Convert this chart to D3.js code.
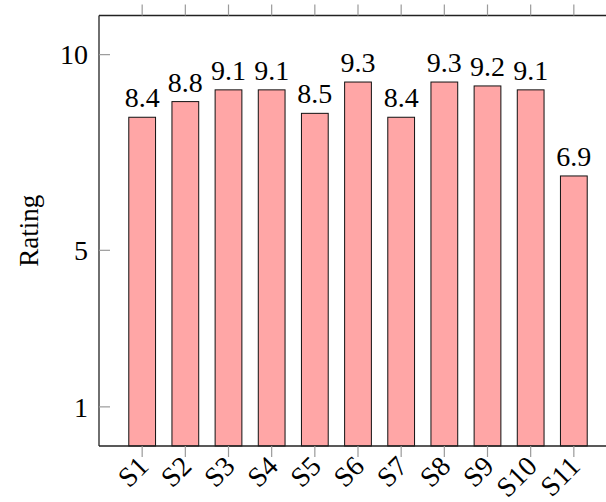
<!DOCTYPE html>
<html>
<head>
<meta charset="utf-8">
<script src="https://cdn.jsdelivr.net/npm/d3@7"></script>
<style>
  @font-face { font-family: "ChartSerif"; src: local("Liberation Serif"), local("LiberationSerif"), local("Liberation Serif Regular"), local("LiberationSerif-Regular"); }
  html, body { margin: 0; padding: 0; background: #fff; }
  svg { display: block; }
  svg text { font-family: "Liberation Serif", "ChartSerif", "Times New Roman" !important; }
</style>
</head>
<body>
<svg id="chart" width="606" height="502" style="font-family: 'Liberation Serif', serif"></svg>
<script>
const categories = ["S1","S2","S3","S4","S5","S6","S7","S8","S9","S10","S11"];
const ratings = [8.4, 8.8, 9.1, 9.1, 8.5, 9.3, 8.4, 9.3, 9.2, 9.1, 6.9];
const yTicks = [1, 5, 10];
const yLabel = "Rating";

const FONT = "\"Liberation Serif\", \"ChartSerif\", \"Times New Roman\"";
const svg = d3.select("#chart");
const pLeft = 99, pRight = 617, pTop = 15.5, pBottom = 446;

const x = d3.scaleLinear().domain([0, categories.length + 1]).range([pLeft, pRight]);
const y = d3.scaleLinear().domain([0, 11]).range([pBottom, pTop]);
const unit = x(1) - x(0);
const barW = unit * 0.62;

// bars
svg.append("g").selectAll("rect")
  .data(ratings)
  .join("rect")
  .attr("x", (d, i) => x(i + 1) - barW / 2)
  .attr("y", d => y(d))
  .attr("width", barW)
  .attr("height", d => y(0) - y(d))
  .attr("fill", "#ffa6a6")
  .attr("stroke", "#111")
  .attr("stroke-width", 1);

// value labels
svg.append("g").selectAll("text")
  .data(ratings)
  .join("text")
  .attr("x", (d, i) => x(i + 1))
  .attr("y", d => y(d) - 10)
  .attr("text-anchor", "middle")
  .style("font-family", FONT)
  .style("font-size", "28px")
  .text(d => d.toFixed(1));

// axis box lines
const box = svg.append("g").attr("stroke", "#222").attr("stroke-width", 1.3).attr("fill", "none");
box.append("line").attr("x1", pLeft).attr("x2", pLeft).attr("y1", pTop).attr("y2", pBottom);
box.append("line").attr("x1", pLeft).attr("x2", pRight).attr("y1", pTop).attr("y2", pTop);
box.append("line").attr("x1", pLeft).attr("x2", pRight).attr("y1", pBottom).attr("y2", pBottom);
box.append("line").attr("x1", pRight).attr("x2", pRight).attr("y1", pTop).attr("y2", pBottom);

// x ticks (outside, top and bottom)
const xIdx = categories.map((c, i) => i + 1);
const tk = svg.append("g").attr("stroke", "#9a9a9a").attr("stroke-width", 1.2);
tk.selectAll("line.xb").data(xIdx).join("line").attr("class", "xb")
  .attr("x1", d => x(d)).attr("x2", d => x(d)).attr("y1", pBottom).attr("y2", pBottom + 11);
tk.selectAll("line.xt").data(xIdx).join("line").attr("class", "xt")
  .attr("x1", d => x(d)).attr("x2", d => x(d)).attr("y1", pTop).attr("y2", pTop - 11);
// y ticks (inside)
tk.selectAll("line.yl").data(yTicks).join("line").attr("class", "yl")
  .attr("x1", pLeft).attr("x2", pLeft + 11).attr("y1", d => y(d)).attr("y2", d => y(d));

// y tick labels
svg.append("g").selectAll("text")
  .data(yTicks)
  .join("text")
  .attr("x", pLeft - 11)
  .attr("y", d => y(d))
  .attr("dy", "0.35em")
  .attr("text-anchor", "end")
  .style("font-family", FONT)
  .style("font-size", "28px")
  .text(d => d);

// x tick labels rotated
svg.append("g").selectAll("text")
  .data(categories)
  .join("text")
  .attr("transform", (d, i) => `translate(${x(i + 1) + 1},${pBottom + 15}) rotate(-45)`)
  .attr("text-anchor", "end")
  .attr("dy", "0.35em")
  .style("font-family", FONT)
  .style("font-size", "28px")
  .text(d => d);

// y label
svg.append("text")
  .attr("transform", `translate(38,${(pTop + pBottom) / 2}) rotate(-90)`)
  .attr("text-anchor", "middle")
  .style("font-family", FONT)
  .style("font-size", "27px")
  .text(yLabel);
</script>
</body>
</html>
